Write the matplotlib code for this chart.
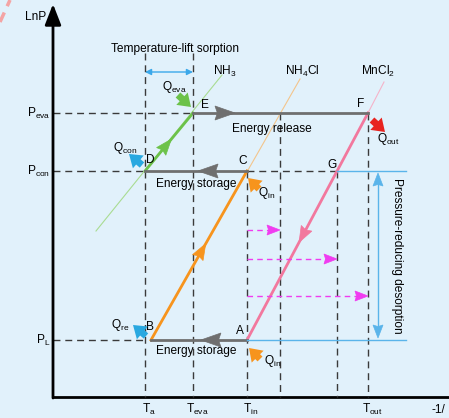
import matplotlib
matplotlib.use("Agg")
import matplotlib.pyplot as plt
from matplotlib.patches import FancyArrowPatch, Polygon
import numpy as np

plt.rcParams['font.family'] = ['Liberation Sans', 'DejaVu Sans']
plt.rcParams['mathtext.fontset'] = 'custom'
plt.rcParams['mathtext.rm'] = 'Liberation Sans'
plt.rcParams['mathtext.it'] = 'Liberation Sans'
plt.rcParams['font.size'] = 8.6

# Schematic coordinates (pixel-like units, y grows downward)
# ----------------------------
xOrigin, yOrigin = 53, 397
tempNames = ['Ta', 'Teva', 'Tin', 'Tout']
tempLabels = [r'T$_{\rm a}$', r'T$_{\rm eva}$', r'T$_{\rm in}$', r'T$_{\rm out}$']
tempX = [145, 193, 247, 368]
xNH4Cl, xG = 280, 337
presNames = ['Peva', 'Pcon', 'PL']
presLabels = [r'P$_{\rm eva}$', r'P$_{\rm con}$', r'P$_{\rm L}$']
presY = [113, 171, 340]

stateNames = ['A', 'B', 'C', 'D', 'E', 'F', 'G']
stateX = [247, 151, 247, 145, 193, 368, 337]
stateY = [340, 340, 171, 171, 113, 113, 171]

# thin equilibrium lines (start, end)
nh3Line = [(96, 231), (222, 75)]
nh4clLine = [(151, 340), (300, 79)]
mncl2Line = [(368, 113), (384, 82)]

# pressure-reducing steps
stepY = [230, 259, 296]
stepEndX = [280, 337, 368]
# ----------------------------

fig = plt.figure(figsize=(4.49, 4.18), dpi=100)
fig.patch.set_facecolor('#e1f1fb')
ax = fig.add_axes([0, 0, 1, 1])
ax.set_xlim(0, 449)
ax.set_ylim(418, 0)
ax.axis('off')

pts = dict(zip(stateNames, zip(stateX, stateY)))
T = dict(zip(tempNames, tempX))
P = dict(zip(presNames, presY))

dash = dict(color='#3a3a3a', lw=1.0, ls=(0, (5, 3.5)))
gray = '#6f6f6f'
green = '#6cc24a'
orange = '#f7941d'
pink = '#f2789e'
blue = '#5ab4ea'
magenta = '#f03cf0'


def midArrow(p0, p1, frac, color, length=16, width=12):
    # filled triangular head sitting on a line, pointing from p0 to p1
    p0 = np.array(p0, float)
    p1 = np.array(p1, float)
    tip = p0 + (p1 - p0) * frac
    u = (p1 - p0) / np.hypot(*(p1 - p0))
    n = np.array([-u[1], u[0]])
    base = tip - u * length
    notch = tip - u * length * 0.88
    verts = [tip, base + n * width / 2, notch, base - n * width / 2]
    ax.add_patch(Polygon(verts, closed=True, facecolor=color, edgecolor=color, lw=0.5, zorder=5))


def blockArrow(tail, tip, color):
    ax.annotate('', xy=tip, xytext=tail,
                arrowprops=dict(arrowstyle='simple,head_width=1.1,head_length=0.8,tail_width=0.45',
                                color=color, lw=0, shrinkA=0, shrinkB=0, mutation_scale=11))


# axes
ax.annotate('', xy=(xOrigin, 4), xytext=(xOrigin, yOrigin + 1),
            arrowprops=dict(arrowstyle='-|>,head_length=0.9,head_width=0.35', color='black',
                            lw=2, shrinkA=0, shrinkB=0, mutation_scale=14))
ax.plot([xOrigin - 1, 449], [yOrigin, yOrigin], color='black', lw=2, solid_capstyle='butt')
ax.text(25, 17, 'LnP', va='center', ha='left')
ax.text(431, 410, '-1/', va='center', ha='left')
ax.plot([0, 10], [22, 0], color='#f4a4a4', lw=2.5, ls=(0, (3, 2)))

# vertical dashed
ax.plot([T['Ta'], T['Ta']], [53, yOrigin], **dash)
ax.plot([T['Teva'], T['Teva']], [53, yOrigin], **dash)
ax.plot([T['Tin'], T['Tin']], [P['Pcon'], yOrigin], **dash)
ax.plot([xNH4Cl, xNH4Cl], [P['Peva'], yOrigin], **dash)
ax.plot([xG, xG], [P['Pcon'], yOrigin], **dash)
ax.plot([T['Tout'], T['Tout']], [P['Peva'], yOrigin], **dash)

# horizontal dashed
ax.plot([xOrigin, T['Teva']], [P['Peva'], P['Peva']], **dash)
ax.plot([xOrigin, T['Ta']], [P['Pcon'], P['Pcon']], **dash)
ax.plot([pts['C'][0], pts['G'][0]], [P['Pcon'], P['Pcon']], **dash)
ax.plot([xOrigin, T['Ta']], [P['PL'], P['PL']], **dash)

# tick labels
for lab, x in zip(tempLabels, tempX):
    ax.text(x + 4, 409, lab, ha='center', va='center')
for lab, y in zip(presLabels, presY):
    ax.text(50, y, lab, ha='right', va='center')

# thin equilibrium lines
ax.plot(*zip(*nh3Line), color='#a9dc92', lw=0.8)
ax.plot(*zip(*nh4clLine), color='#f3c58c', lw=0.8)
ax.plot(*zip(*mncl2Line), color='#f5b3c9', lw=0.8)

# process lines
ax.plot(*zip(pts['D'], pts['E']), color=green, lw=2)
midArrow(pts['D'], pts['E'], 0.55, green)
ax.plot(*zip(pts['B'], pts['C']), color=orange, lw=2)
midArrow(pts['B'], pts['C'], 0.57, orange)
ax.plot(*zip(pts['F'], pts['A']), color=pink, lw=2)
midArrow(pts['F'], pts['A'], 0.57, pink)

ax.plot(*zip(pts['E'], pts['F']), color=gray, lw=2)
midArrow(pts['E'], pts['F'], 0.24, gray, 20, 14)
ax.plot(*zip(pts['C'], pts['D']), color=gray, lw=2)
midArrow(pts['C'], pts['D'], 0.48, gray, 20, 14)
ax.plot(*zip(pts['A'], pts['B']), color=gray, lw=2)
midArrow(pts['A'], pts['B'], 0.48, gray, 20, 14)

ax.plot([pts['G'][0], 406], [P['Pcon'], P['Pcon']], color=blue, lw=1)
ax.plot([pts['A'][0], 406], [P['PL'], P['PL']], color=blue, lw=1)
ax.plot([378, 378], [P['Pcon'] + 10, P['PL'] - 10], color=blue, lw=1)
midArrow((378, P['PL']), (378, P['Pcon'] + 2), 1.0, blue, 13, 10)
midArrow((378, P['Pcon']), (378, P['PL'] - 2), 1.0, blue, 13, 10)
ax.text(397, 256, 'Pressure-reducing desorption', rotation=-90, ha='center', va='center')

# pressure-reducing steps
for y, xe in zip(stepY, stepEndX):
    ax.plot([T['Tin'], xe - 10], [y, y], color=magenta, lw=1, ls=(0, (4, 3)))
    midArrow((T['Tin'], y), (xe, y), 1.0, magenta, 13, 10)

# temperature-lift sorption
ax.text(175, 49, 'Temperature-lift sorption', ha='center', va='center')
ax.add_patch(FancyArrowPatch((T['Ta'], 72), (T['Teva'], 72), arrowstyle='<|-|>',
                             mutation_scale=9, color='#3ba8ea', lw=1, shrinkA=0, shrinkB=0))

# material names
ax.text(225, 71, r'NH$_{3}$', ha='center', va='center')
ax.text(302, 71, r'NH$_{4}$Cl', ha='center', va='center')
ax.text(378, 71, r'MnCl$_{2}$', ha='center', va='center')

# state letters
for name, (x, y) in zip(['E', 'F', 'D', 'C', 'G', 'B', 'A'],
                        [(205, 105), (361, 104), (150, 160), (243, 161),
                         (332, 165), (150, 327), (240, 331)]):
    ax.text(x, y, name, ha='center', va='center')

# process text
ax.text(272, 129, 'Energy release', ha='center', va='center')
ax.text(196, 184, 'Energy storage', ha='center', va='center')
ax.text(196, 351, 'Energy storage', ha='center', va='center')

# heat flows
blockArrow((178, 95), (191, 107), '#6cc24a')
ax.text(174, 87, r'Q$_{\rm eva}$', ha='center', va='center')
blockArrow((372, 120), (385, 132), '#e8231f')
ax.text(388, 139, r'Q$_{\rm out}$', ha='center', va='center')
blockArrow((142, 165), (129, 154), '#29a8e0')
ax.text(125, 148, r'Q$_{\rm con}$', ha='center', va='center')
blockArrow((259, 189), (248, 178), orange)
ax.text(267, 193, r'Q$_{\rm in}$', ha='center', va='center')
blockArrow((146, 336), (133, 325), '#29a8e0')
ax.text(120, 325, r'Q$_{\rm re}$', ha='center', va='center')
blockArrow((260, 359), (249, 348), orange)
ax.text(273, 361, r'Q$_{\rm in}$', ha='center', va='center')

fig.savefig('out.png', dpi=100, facecolor=fig.get_facecolor())
